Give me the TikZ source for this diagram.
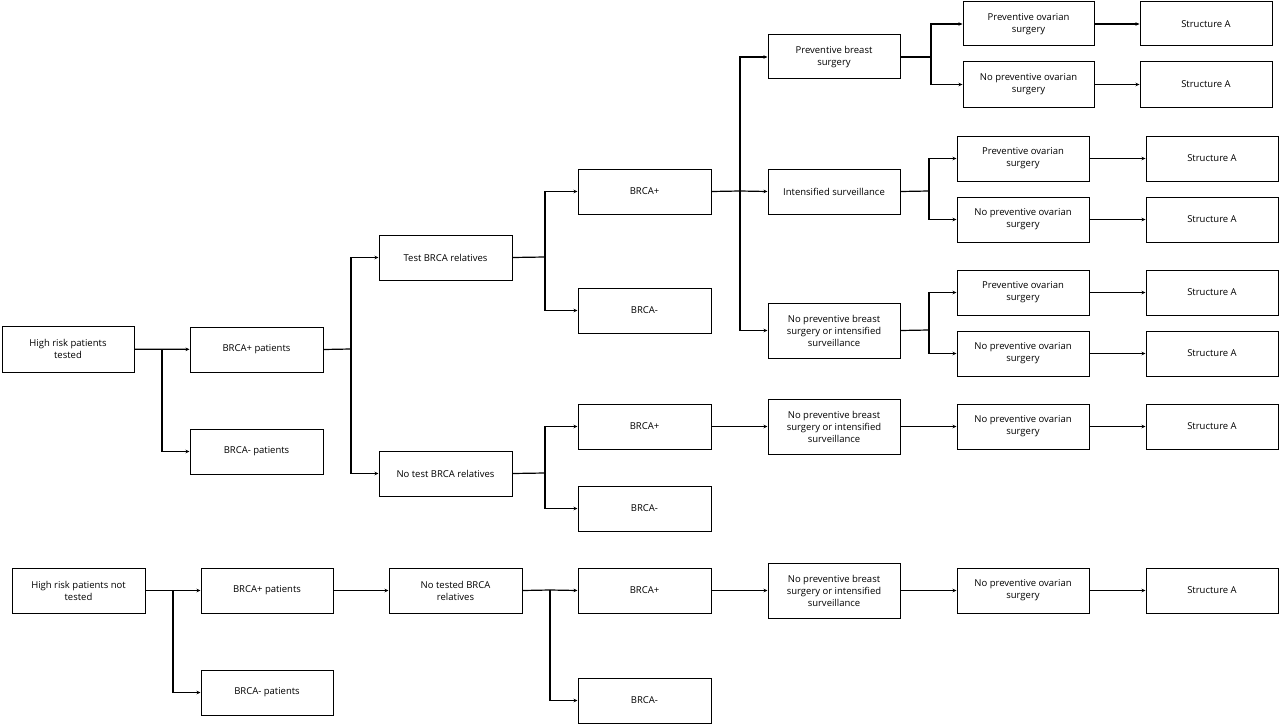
\documentclass[tikz,border=0pt]{standalone}
\usepackage{fontspec}
\setmainfont{Open Sans}
\usetikzlibrary{arrows.meta}
\begin{document}
\begin{tikzpicture}[x=1pt,y=-1pt,
  box/.style={draw,line width=1pt,align=center,font=\fontsize{9.5}{12}\selectfont,inner sep=0pt},
  ln/.style={line width=1.2pt},
  ar/.style={ln,-{Stealth[length=4pt,width=3.5pt]}}]
\useasboundingbox (0,0) rectangle (1280,725);
\newcommand{\bx}[6]{\node[box,minimum width=#4-#2,minimum height=#5-#3] (#1) at ({(#2+#4)/2},{(#3+#5)/2}) {#6};}
\bx{H1}{2}{326}{134}{372}{High risk patients\\tested}
\bx{BP1}{190}{327}{323}{372}{BRCA+ patients}
\bx{BM1}{190}{429}{323}{474}{BRCA- patients}
\bx{T}{379}{235}{512}{280}{Test BRCA relatives}
\bx{NT}{379}{451}{512}{496}{No test BRCA relatives}
\bx{B1}{578}{169}{711}{214}{BRCA+}
\bx{B2}{578}{288}{711}{333}{BRCA-}
\bx{B3}{578}{404}{711}{449}{BRCA+}
\bx{B4}{578}{486}{711}{531}{BRCA-}
\bx{PBS}{768}{35}{900}{79}{Preventive breast\\surgery}
\bx{IS}{768}{169}{900}{214}{Intensified surveillance}
\bx{NPB1}{768}{303}{900}{358}{No preventive breast\\surgery or intensified\\surveillance}
\bx{NPB2}{768}{399}{900}{454}{No preventive breast\\surgery or intensified\\surveillance}
\bx{P1}{963}{2}{1094}{46}{Preventive ovarian\\surgery}
\bx{N1}{963}{62}{1094}{107}{No preventive ovarian\\surgery}
\bx{S1}{1140}{2}{1272}{46}{Structure A}
\bx{S2}{1140}{62}{1272}{107}{Structure A}
\bx{P2}{957}{136}{1089}{181}{Preventive ovarian\\surgery}
\bx{N2}{957}{197}{1089}{242}{No preventive ovarian\\surgery}
\bx{S3}{1146}{136}{1278}{181}{Structure A}
\bx{S4}{1146}{197}{1278}{242}{Structure A}
\bx{P3}{957}{270}{1089}{315}{Preventive ovarian\\surgery}
\bx{N3}{957}{331}{1089}{376}{No preventive ovarian\\surgery}
\bx{S5}{1146}{270}{1278}{315}{Structure A}
\bx{S6}{1146}{331}{1278}{376}{Structure A}
\bx{N4}{957}{404}{1089}{449}{No preventive ovarian\\surgery}
\bx{S7}{1146}{404}{1278}{449}{Structure A}
\bx{H2}{12}{568}{145}{613}{High risk patients not\\tested}
\bx{BP2}{201}{568}{333}{613}{BRCA+ patients}
\bx{BM2}{201}{670}{333}{715}{BRCA- patients}
\bx{NTB}{389}{568}{522}{613}{No tested BRCA\\relatives}
\bx{B5}{578}{568}{711}{613}{BRCA+}
\bx{B6}{578}{678}{711}{723}{BRCA-}
\bx{NPB3}{768}{563}{900}{618}{No preventive breast\\surgery or intensified\\surveillance}
\bx{N5}{957}{568}{1089}{613}{No preventive ovarian\\surgery}
\bx{S8}{1146}{568}{1278}{613}{Structure A}
% junctions
\coordinate (j1) at (162,349);
\coordinate (j2) at (351,349);
\coordinate (j3) at (545,257);
\coordinate (j4) at (740,191);
\coordinate (j5) at (931,57);
\coordinate (j6) at (929,191);
\coordinate (j7) at (929,330);
\coordinate (j8) at (545,473);
\coordinate (j9) at (173,590);
\coordinate (j10) at (550,590);
\draw[ar] (H1) -- (BP1);
\draw[ar] (j1) |- (BM1.west);
\draw[ln] (BP1.east) -- (j2);
\draw[ar] (j2) |- (T.west);
\draw[ar] (j2) |- (NT.west);
\draw[ln] (T.east) -- (j3);
\draw[ar] (j3) |- (B1.west);
\draw[ar] (j3) |- (B2.west);
\draw[ln] (B1.east) -- (j4);
\draw[ar] (j4) |- (PBS.west);
\draw[ar] (j4) -- (IS.west);
\draw[ar] (j4) |- (NPB1.west);
\draw[ln] (PBS.east) -- (j5);
\draw[ar] (j5) |- (P1.west);
\draw[ar] (j5) |- (N1.west);
\draw[ln] (IS.east) -- (j6);
\draw[ar] (j6) |- (P2.west);
\draw[ar] (j6) |- (N2.west);
\draw[ln] (NPB1.east) -- (j7);
\draw[ar] (j7) |- (P3.west);
\draw[ar] (j7) |- (N3.west);
\draw[ar] (P1) -- (S1); \draw[ar] (N1) -- (S2);
\draw[ar] (P2) -- (S3); \draw[ar] (N2) -- (S4);
\draw[ar] (P3) -- (S5); \draw[ar] (N3) -- (S6);
\draw[ln] (NT.east) -- (j8);
\draw[ar] (j8) |- (B3.west);
\draw[ar] (j8) |- (B4.west);
\draw[ar] (B3) -- (NPB2); \draw[ar] (NPB2) -- (N4); \draw[ar] (N4) -- (S7);
\draw[ar] (H2) -- (BP2);
\draw[ar] (j9) |- (BM2.west);
\draw[ar] (BP2) -- (NTB);
\draw[ln] (NTB.east) -- (j10);
\draw[ar] (j10) -- (B5.west);
\draw[ar] (j10) |- (B6.west);
\draw[ar] (B5) -- (NPB3); \draw[ar] (NPB3) -- (N5); \draw[ar] (N5) -- (S8);
\end{tikzpicture}
\end{document}
